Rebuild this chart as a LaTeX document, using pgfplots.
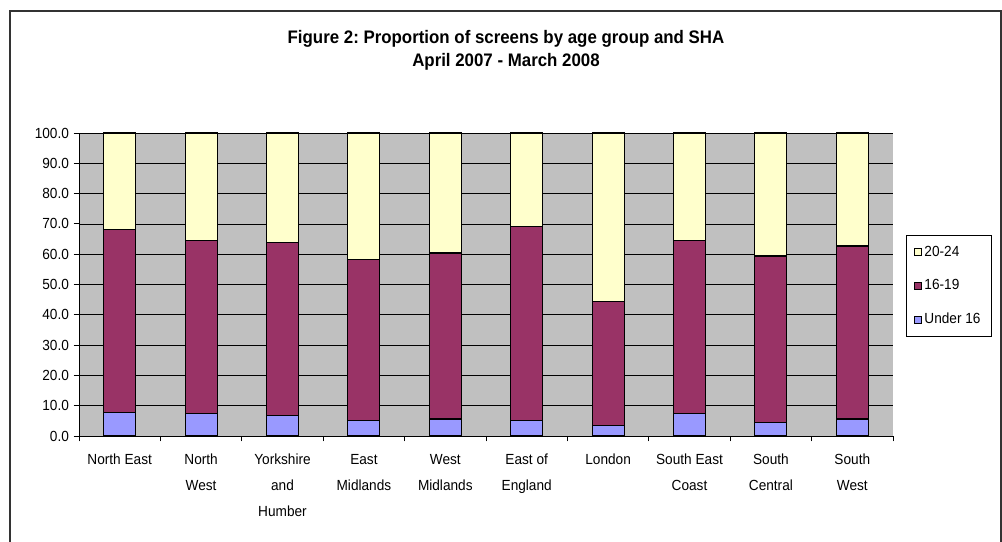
\documentclass[border=0pt]{standalone}
\usepackage{pgfplots}
\pgfplotsset{compat=1.18}
\usepackage{fontspec}
\setmainfont{Liberation Sans}
\newfontfamily\narrowfont[FakeStretch=0.93]{Liberation Sans}
\frenchspacing
\definecolor{plotgray}{HTML}{C0C0C0}
\definecolor{cyoung}{HTML}{9999FF}
\definecolor{cmid}{HTML}{993366}
\definecolor{cold}{HTML}{FFFFCC}
\begin{document}
\begin{tikzpicture}[x=1pt,y=1pt]
\useasboundingbox (0,0) rectangle (751.5,406.5);
\draw[line width=0.9pt, black!80] (7.5,-2) -- (7.5,398.25) -- (750.75,398.25) -- (750.75,-2);
\node[font=\narrowfont\bfseries\fontsize{13.6}{15}\selectfont] at (379.5,377.5) {Figure 2: Proportion of screens by age group and SHA};
\node[font=\narrowfont\bfseries\fontsize{13.6}{15}\selectfont] at (379.5,360.25) {April 2007 - March 2008};
\begin{axis}[
  scale only axis,
  anchor=south west,
  at={(59.25pt,79.5pt)},
  width=610.5pt, height=227.25pt,
  xmin=-0.5, xmax=9.5,
  ymin=0, ymax=100,
  ybar stacked,
  bar width=24pt,
  axis background/.style={fill=plotgray},
  axis x line*=bottom,
  axis y line*=left,
  axis line style={black, line width=0.6pt},
  ytick={0,10,...,100},
  ymajorgrids,
  major grid style={black, line width=0.5pt},
  tick align=outside,
  major tick length=4pt,
  tick style={black, line width=0.6pt},
  xtick={0,...,9},
  xtick style={draw=none},
  extra x ticks={-0.5,0.5,1.5,2.5,3.5,4.5,5.5,6.5,7.5,8.5,9.5},
  extra x tick labels={},
  extra x tick style={xtick style={draw=black, line width=0.6pt}, grid=none},
  xticklabels={North East,North\\West,Yorkshire\\and\\Humber,East\\Midlands,West\\Midlands,East of\\England,London,South East\\Coast,South\\Central,South\\West},
  xticklabel style={align=center, font=\narrowfont\fontsize{11}{19.5}\selectfont, yshift=-6pt},
  yticklabel style={font=\narrowfont\fontsize{11}{13}\selectfont},
  /pgf/number format/assume math mode=true,
  /pgf/number format/.cd, fixed, fixed zerofill, precision=1,
  /pgfplots/.cd,
  legend style={at={(1.016,0.663)}, anchor=north west, draw=black, fill=white,
    font=\narrowfont\fontsize{11}{13}\selectfont, row sep=12pt, inner xsep=6pt, inner ysep=6pt, legend cell align=left},
  reverse legend,
  legend image code/.code={\draw[#1, draw=black, line width=0.5pt] (0cm,-0.09cm) rectangle (0.18cm,0.09cm);},
]
\addplot[fill=cyoung, draw=black, line width=0.8pt] coordinates {(0,7.8) (1,7.3) (2,6.7) (3,5.1) (4,5.6) (5,5.1) (6,3.4) (7,7.3) (8,4.5) (9,5.6)};
\addplot[fill=cmid, draw=black, line width=0.8pt] coordinates {(0,60.2) (1,57.1) (2,57.2) (3,53.2) (4,54.8) (5,64.0) (6,41.1) (7,57.2) (8,54.9) (9,57.1)};
\addplot[fill=cold, draw=black, line width=0.8pt] coordinates {(0,32.0) (1,35.6) (2,36.1) (3,41.7) (4,39.6) (5,30.9) (6,55.5) (7,35.5) (8,40.6) (9,37.3)};
\legend{Under 16,16-19,20-24}
\end{axis}
\end{tikzpicture}
\end{document}
